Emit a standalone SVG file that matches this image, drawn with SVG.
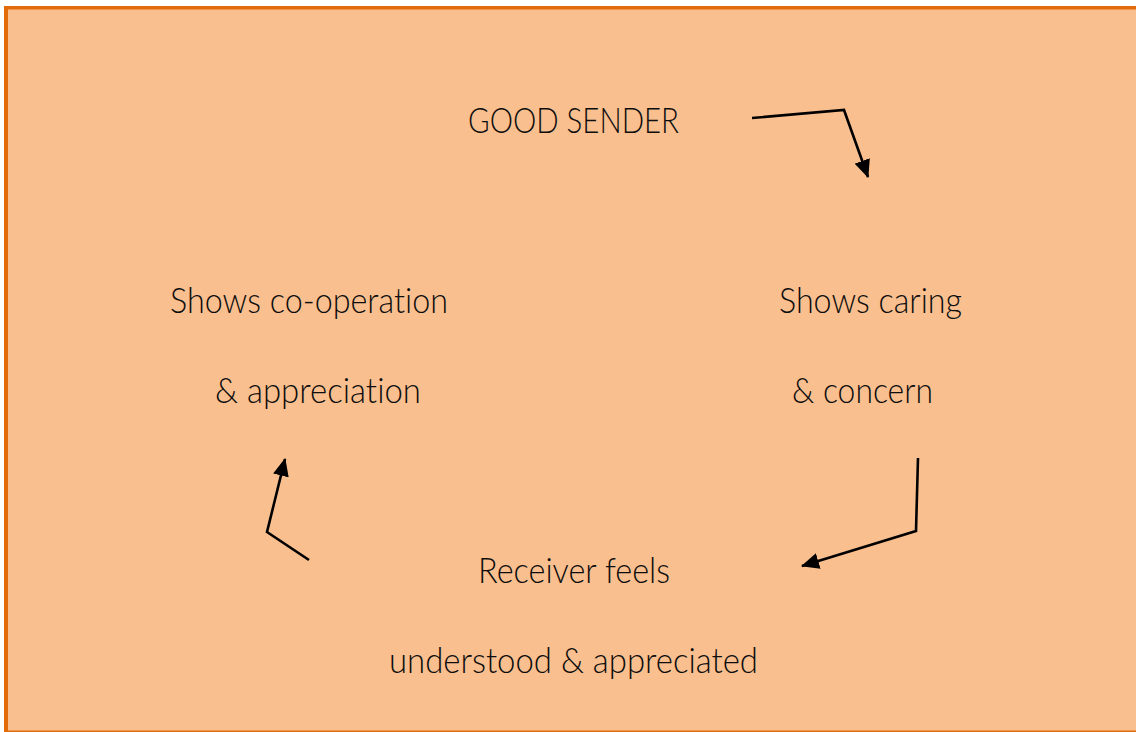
<svg xmlns="http://www.w3.org/2000/svg" width="1136" height="732" viewBox="0 0 1136 732">
  <defs>
    <style>
      .lbl { font-family: "Lato", "Open Sans", "Liberation Sans", sans-serif; font-weight: 300; font-size: 34.5px; fill: #0d0d0d; font-variant-ligatures: none; }
      .edge { fill: none; stroke: #000; stroke-width: 2.6; stroke-linejoin: miter; marker-end: url(#head); }
    </style>
    <marker id="head" viewBox="0 0 18 16" refX="17" refY="8" markerWidth="18" markerHeight="16" markerUnits="userSpaceOnUse" orient="auto">
      <path d="M0,0 L18,8 L0,16 Z" fill="#000"/>
    </marker>
  </defs>

  <!-- panel background with orange frame -->
  <rect x="0" y="0" width="1136" height="732" fill="#FFFFFF"/>
  <rect x="6" y="7" width="1130" height="725" fill="#F9BF8F"/>
  <rect x="4" y="6" width="1132" height="3.5" fill="#E36C0A"/>
  <rect x="4" y="6" width="4" height="726" fill="#E36C0A"/>
  <rect x="4" y="730.5" width="1132" height="1.5" fill="#E36C0A"/>

  <g id="node-sender">
    <text class="lbl" x="468" y="133" textLength="211" lengthAdjust="spacingAndGlyphs">GOOD SENDER</text>
  </g>
  <g id="node-caring">
    <text class="lbl" x="779" y="313" textLength="183" lengthAdjust="spacingAndGlyphs">Shows caring</text>
    <text class="lbl" x="792" y="403" textLength="141" lengthAdjust="spacingAndGlyphs">&amp; concern</text>
  </g>
  <g id="node-receiver">
    <text class="lbl" x="478" y="583" textLength="192" lengthAdjust="spacingAndGlyphs">Receiver feels</text>
    <text class="lbl" x="389" y="673" textLength="369" lengthAdjust="spacingAndGlyphs">understood &amp; appreciated</text>
  </g>
  <g id="node-cooperation">
    <text class="lbl" x="170" y="313" textLength="278" lengthAdjust="spacingAndGlyphs">Shows co-operation</text>
    <text class="lbl" x="215" y="403" textLength="206" lengthAdjust="spacingAndGlyphs">&amp; appreciation</text>
  </g>

  <g id="connectors">
    <polyline class="edge" points="752,118 844,110 868,177"/>
    <polyline class="edge" points="918,458 916,531 802,566"/>
    <polyline class="edge" points="309,560 267,532 285,459"/>
  </g>
</svg>
